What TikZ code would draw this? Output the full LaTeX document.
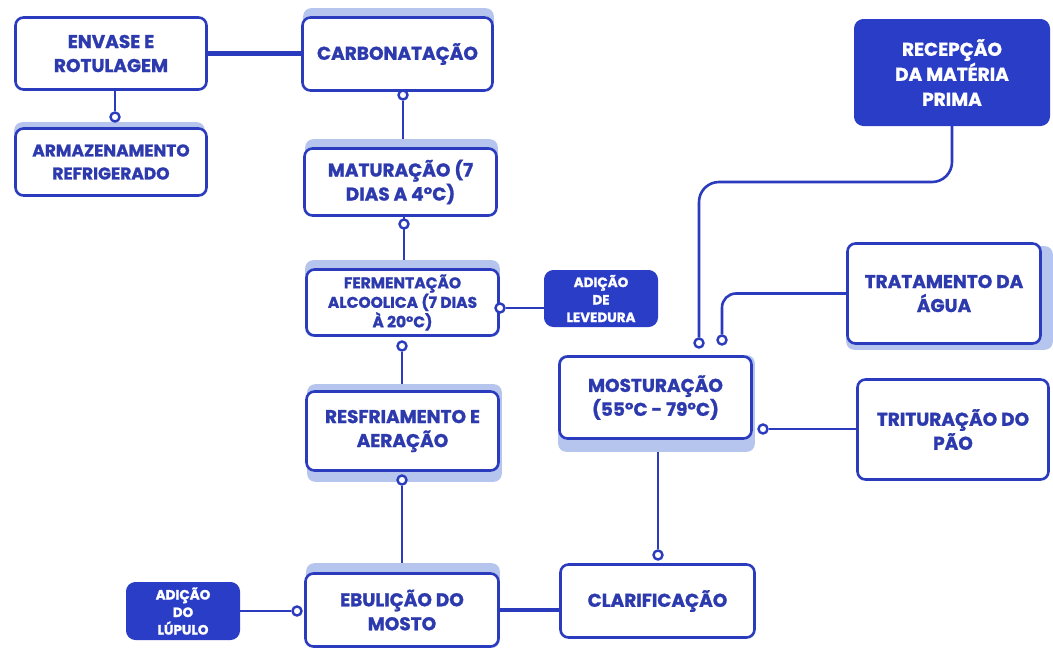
\documentclass[tikz,border=0pt]{standalone}
\usepackage{fontspec}
\setmainfont{Poppins}[BoldFeatures={FakeBold=1.2}]
\usetikzlibrary{calc,backgrounds}
\definecolor{bl}{HTML}{2B3BBE}
\definecolor{tx}{HTML}{2D3AAE}
\definecolor{dk}{HTML}{2A3DC6}
\definecolor{sh}{HTML}{B6C5EE}
\tikzset{
 box/.style={draw=bl, line width=2.6pt, rounded corners=8pt, fill=white, text=tx, align=center, font=\fontsize{18.5}{24}\selectfont\bfseries, inner sep=0pt},
 dbox/.style={draw=dk, fill=dk, line width=1pt, rounded corners=9pt, text=white, align=center, font=\fontsize{13.5}{17.5}\selectfont\bfseries, inner sep=0pt},
 conn/.style={draw=bl, line width=2.6pt},
 thickconn/.style={draw=bl, line width=4.5pt},
 dot/.style={circle, draw=bl, line width=2.4pt, fill=white, minimum size=9pt, inner sep=0pt},
 shad/.style={fill=sh, rounded corners=8pt},
}
\begin{document}
\begin{tikzpicture}[x=1pt,y=-1pt]
\useasboundingbox (0,0) rectangle (1053,651);
% boxes
\node[box, minimum width=191pt, minimum height=72pt] (env) at (111,53.5) {ENVASE E\\ROTULAGEM};
\node[box, minimum width=191pt, minimum height=67pt, font=\fontsize{17}{23}\selectfont\bfseries] (arm) at (111,162) {ARMAZENAMENTO\\REFRIGERADO};
\node[box, minimum width=190pt, minimum height=73pt] (carb) at (397.5,54) {CARBONATAÇÃO};
\node[box, minimum width=192pt, minimum height=67pt] (mat) at (400.5,182) {MATURAÇÃO (7\\DIAS A 4°C)};
\node[box, minimum width=192pt, minimum height=66pt, font=\fontsize{15.5}{19.5}\selectfont\bfseries] (fer) at (402.5,302.5) {FERMENTAÇÃO\\ALCOOLICA (7 DIAS\\À 20°C)};
\node[dbox, minimum width=113pt, minimum height=56pt] (lev) at (601,298.5) {ADIÇÃO\\DE\\LEVEDURA};
\node[box, minimum width=192pt, minimum height=79pt] (res) at (402.5,431) {RESFRIAMENTO E\\AERAÇÃO};
\node[box, minimum width=193pt, minimum height=73pt] (ebu) at (402,610) {EBULIÇÃO DO\\MOSTO};
\node[dbox, minimum width=113pt, minimum height=57pt] (lup) at (183,611) {ADIÇÃO\\DO\\LÚPULO};
\node[box, minimum width=194pt, minimum height=73pt] (cla) at (657.5,601) {CLARIFICAÇÃO};
\node[box, minimum width=192pt, minimum height=82pt] (mos) at (655.5,397.5) {MOSTURAÇÃO\\(55°C - 79°C)};
\node[box, minimum width=191pt, minimum height=100pt] (tri) at (953,429.5) {TRITURAÇÃO DO\\PÃO};
\node[box, minimum width=193pt, minimum height=100pt] (tra) at (944,293.5) {TRATAMENTO DA\\ÁGUA};
\node[dbox, minimum width=195pt, minimum height=106pt, font=\fontsize{18.5}{25}\selectfont\bfseries] (rec) at (952,72.5) {RECEPÇÃO\\DA MATÉRIA\\PRIMA};
% dots
\node[dot] (d1) at (115,117) {};
\node[dot] (d2) at (403,95) {};
\node[dot] (d3) at (404,224) {};
\node[dot] (d4) at (500,308) {};
\node[dot] (d5) at (402,346) {};
\node[dot] (d6) at (402,480) {};
\node[dot] (d7) at (297,611) {};
\node[dot] (d8) at (658,555) {};
\node[dot] (d9) at (763,429) {};
\node[dot] (d10) at (699,343) {};
\node[dot] (d11) at (722,340) {};
\path (rec.south) ++(0,56) coordinate (r1);
\begin{pgfonlayer}{background}
\fill[white] (0,0) rectangle (1053,651);
% connectors
\draw[thickconn] (env.east) -- (env.east -| carb.west);
\draw[conn] (env.south -| d1) -- (d1);
\draw[conn] (d2) -- (d2 |- mat.north);
\draw[conn] (d3 |- mat.south) -- (d3 |- fer.north);
\draw[conn] (d4) -- (d4 -| lev.west);
\draw[conn] (d5) -- (d5 |- res.north);
\draw[conn] (d6) -- (d6 |- ebu.north);
\draw[conn] (d7) -- (d7 -| lup.east);
\draw[thickconn] (ebu.east) -- (ebu.east -| cla.west);
\draw[conn] (d8 |- mos.south) -- (d8);
\draw[conn] (d9) -- (d9 -| tri.west);
\draw[conn, rounded corners=20pt] (rec.south) -- (r1) -- (r1 -| d10) -- (d10);
\draw[conn, rounded corners=14pt] (tra.west) -- (tra.west -| d11) -- (d11);
% shadows
\fill[shad] ($(arm.north west)+(0,-5)$) rectangle ($(arm.south east)+(-3,-5)$);
\fill[shad] ($(carb.north west)+(2,-8)$) rectangle ($(carb.south east)+(0,-8)$);
\fill[shad] ($(mat.north west)+(2,-8)$) rectangle ($(mat.south east)+(0,-8)$);
\fill[shad] ($(fer.north west)+(0,-8)$) rectangle (fer.south east);
\fill[shad] ($(res.north west)+(2,-6)$) rectangle ($(res.south east)+(2,10)$);
\fill[shad] ($(ebu.north west)+(2,-9)$) rectangle (ebu.south east);
\fill[shad] (mos.north west) rectangle ($(mos.south east)+(2,12)$);
\fill[shad] ($(tra.north west)+(0,4)$) rectangle ($(tra.south east)+(11,5)$);
\end{pgfonlayer}
\end{tikzpicture}
\end{document}
